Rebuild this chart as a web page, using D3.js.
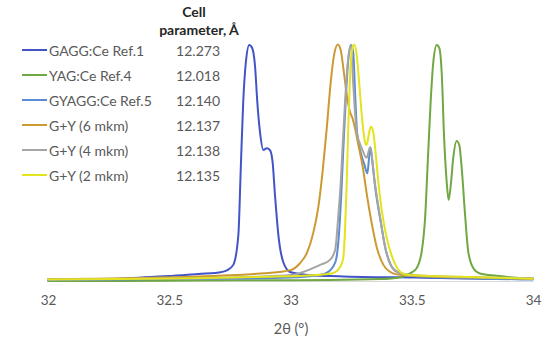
<!DOCTYPE html>
<html>
<head>
<meta charset="utf-8">
<script src="https://cdn.jsdelivr.net/npm/d3@7"></script>
<style>
  html, body { margin: 0; padding: 0; background: #fff; }
  svg { display: block; }
</style>
</head>
<body>
<svg id="chart" width="550" height="342"></svg>
<script>
// ---- data ----
const seriesNames = ["GAGG:Ce Ref.1", "YAG:Ce Ref.4", "GYAGG:Ce Ref.5", "G+Y (6 mkm)", "G+Y (4 mkm)", "G+Y (2 mkm)"];
const cellParams = ["12.273", "12.018", "12.140", "12.137", "12.138", "12.135"];
const seriesColors = ["#4355C6", "#70A843", "#5B8BD0", "#CC9A33", "#A5A5A5", "#E3E31E"];
const xTicks = [32, 32.5, 33, 33.5, 34];

const gaggX = [32.00, 32.10, 32.20, 32.30, 32.42, 32.50, 32.565, 32.62, 32.69, 32.74, 32.764, 32.785, 32.795, 32.805, 32.816, 32.830, 32.842, 32.854, 32.863, 32.874, 32.888, 32.902, 32.915, 32.926, 32.936, 32.950, 32.970, 32.998, 33.039, 33.12, 33.20, 33.245, 33.35, 33.45, 33.55, 33.66, 33.80, 34.00];
const gaggY = [0.004, 0.006, 0.008, 0.010, 0.017, 0.021, 0.025, 0.030, 0.034, 0.046, 0.068, 0.194, 0.477, 0.755, 0.924, 0.996, 0.983, 0.903, 0.757, 0.630, 0.553, 0.560, 0.553, 0.504, 0.363, 0.194, 0.080, 0.038, 0.030, 0.022, 0.020, 0.018, 0.016, 0.016, 0.014, 0.012, 0.010, 0.008];

const yagX = [32.00, 32.30, 32.60, 32.90, 33.16, 33.37, 33.45, 33.493, 33.52, 33.541, 33.555, 33.568, 33.578, 33.589, 33.603, 33.614, 33.624, 33.633, 33.644, 33.652, 33.661, 33.671, 33.685, 33.696, 33.706, 33.720, 33.733, 33.754, 33.781, 33.85, 33.93, 34.00];
const yagY = [0.000, 0.000, 0.002, 0.003, 0.004, 0.008, 0.015, 0.032, 0.054, 0.124, 0.266, 0.546, 0.757, 0.925, 0.996, 0.982, 0.869, 0.616, 0.419, 0.342, 0.405, 0.518, 0.591, 0.574, 0.476, 0.278, 0.124, 0.054, 0.032, 0.022, 0.014, 0.008];

const gyaggX = [32.00, 32.50, 33.00, 33.10, 33.15, 33.185, 33.200, 33.210, 33.218, 33.228, 33.238, 33.250, 33.259, 33.266, 33.275, 33.290, 33.305, 33.317, 33.324, 33.330, 33.338, 33.350, 33.372, 33.393, 33.415, 33.445, 33.50, 33.60, 33.80, 34.00];
const gyaggY = [0.004, 0.008, 0.015, 0.022, 0.035, 0.080, 0.200, 0.380, 0.560, 0.770, 0.930, 0.996, 0.960, 0.800, 0.620, 0.540, 0.490, 0.454, 0.520, 0.564, 0.500, 0.390, 0.250, 0.130, 0.065, 0.035, 0.022, 0.016, 0.010, 0.006];

const g6X = [32.00, 32.20, 32.40, 32.60, 32.75, 32.85, 32.95, 33.00, 33.039, 33.067, 33.094, 33.115, 33.133, 33.150, 33.165, 33.180, 33.195, 33.207, 33.218, 33.232, 33.245, 33.256, 33.266, 33.280, 33.294, 33.300, 33.314, 33.335, 33.355, 33.383, 33.410, 33.438, 33.50, 33.60, 33.75, 33.90, 34.00];
const g6Y = [0.008, 0.010, 0.013, 0.018, 0.024, 0.030, 0.038, 0.046, 0.075, 0.117, 0.203, 0.314, 0.468, 0.650, 0.830, 0.955, 0.998, 0.975, 0.897, 0.785, 0.714, 0.686, 0.644, 0.574, 0.503, 0.468, 0.370, 0.243, 0.145, 0.068, 0.039, 0.028, 0.022, 0.018, 0.015, 0.012, 0.010];

const g4X = [32.00, 32.30, 32.60, 32.85, 33.00, 33.122, 33.163, 33.184, 33.197, 33.207, 33.214, 33.225, 33.236, 33.249, 33.259, 33.273, 33.294, 33.314, 33.328, 33.348, 33.369, 33.390, 33.410, 33.438, 33.50, 33.60, 33.80, 34.00];
const g4Y = [0.006, 0.008, 0.012, 0.018, 0.025, 0.068, 0.089, 0.131, 0.272, 0.413, 0.553, 0.755, 0.920, 0.996, 0.827, 0.630, 0.560, 0.520, 0.564, 0.412, 0.272, 0.145, 0.074, 0.039, 0.025, 0.020, 0.015, 0.012];

const g2X = [32.00, 32.30, 32.60, 32.90, 33.05, 33.12, 33.176, 33.205, 33.218, 33.225, 33.232, 33.238, 33.245, 33.254, 33.263, 33.273, 33.284, 33.294, 33.307, 33.314, 33.325, 33.332, 33.341, 33.353, 33.362, 33.376, 33.396, 33.424, 33.452, 33.48, 33.55, 33.70, 33.85, 34.00];
const g2Y = [0.006, 0.008, 0.012, 0.018, 0.022, 0.026, 0.034, 0.060, 0.100, 0.220, 0.420, 0.640, 0.850, 0.975, 0.998, 0.954, 0.827, 0.700, 0.588, 0.574, 0.630, 0.651, 0.630, 0.520, 0.420, 0.300, 0.186, 0.089, 0.039, 0.026, 0.022, 0.018, 0.014, 0.010];

const seriesX = [gaggX, yagX, gyaggX, g6X, g4X, g2X];
const seriesY = [gaggY, yagY, gyaggY, g6Y, g4Y, g2Y];

// ---- drawing ----
const FONT = "Lato, 'Open Sans', sans-serif";
const svg = d3.select("#chart");
const x = d3.scaleLinear().domain([32, 34]).range([48, 533]);
const y = d3.scaleLinear().domain([0, 1]).range([281, 44]);

const axis = d3.axisBottom(x).tickValues(xTicks).tickSize(0).tickPadding(14)
  .tickFormat(d => String(d));
const gx = svg.append("g").attr("transform", "translate(0,281)").call(axis);
gx.select(".domain").attr("stroke", "#D9D9D9").attr("stroke-width", 1);
gx.selectAll("text").attr("fill", "#595959").style("font-family", FONT).style("font-size", "13.5px");

svg.append("text").attr("x", 291).attr("y", 334).attr("text-anchor", "middle")
  .attr("fill", "#595959").style("font-family", FONT).style("font-size", "14.5px")
  .text("2θ (°)");

const line = d3.line().x(d => x(d[0])).y(d => y(d[1])).curve(d3.curveMonotoneX);

seriesX.forEach((xs, i) => {
  const pts = xs.map((v, j) => [v, seriesY[i][j]]);
  svg.append("path").datum(pts).attr("d", line)
    .attr("fill", "none").attr("stroke", seriesColors[i]).attr("stroke-width", 2)
    .attr("stroke-linejoin", "round").attr("stroke-linecap", "round");
});

// legend
const rowY = d3.scalePoint().domain(d3.range(seriesNames.length)).range([50, 175]);
const lg = svg.append("g");
seriesNames.forEach((name, i) => {
  const yy = rowY(i);
  lg.append("line").attr("x1", 22).attr("x2", 47).attr("y1", yy).attr("y2", yy)
    .attr("stroke", seriesColors[i]).attr("stroke-width", 2);
  lg.append("text").attr("x", 49).attr("y", yy + 5.5).attr("fill", "#595959")
    .style("font-family", FONT).style("font-size", "14px").text(name);
  lg.append("text").attr("x", 220).attr("y", yy + 5.5).attr("text-anchor", "end").attr("fill", "#595959")
    .style("font-family", FONT).style("font-size", "14px").text(cellParams[i]);
});
svg.append("text").attr("x", 194).attr("y", 17).attr("text-anchor", "middle").attr("fill", "#262626")
  .style("font-family", FONT).style("font-size", "14px").style("font-weight", "bold").text("Cell");
svg.append("text").attr("x", 199).attr("y", 35).attr("text-anchor", "middle").attr("fill", "#262626")
  .style("font-family", FONT).style("font-size", "14px").style("font-weight", "bold").text("parameter, Å");
</script>
</body>
</html>
